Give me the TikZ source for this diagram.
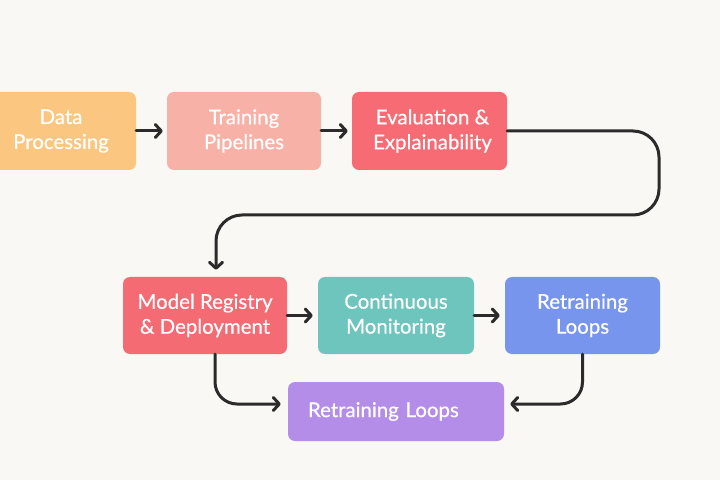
\documentclass[tikz,border=0pt]{standalone}
\usepackage{fontspec}
\setmainfont{Lato}
\newfontfamily\labfont{Lato}[FakeBold=0.5]
\usetikzlibrary{arrows.meta}
\definecolor{bg}{HTML}{FAF8F5}
\definecolor{cData}{HTML}{FBC680}
\definecolor{cTrain}{HTML}{F8B1A7}
\definecolor{cEval}{HTML}{F76B74}
\definecolor{cModel}{HTML}{F56B73}
\definecolor{cMon}{HTML}{6DC5BE}
\definecolor{cRetrain}{HTML}{7795EC}
\definecolor{cLoop}{HTML}{B48DE8}
\definecolor{cLine}{HTML}{2B2B2B}
\tikzset{
  stagebox/.style={rounded corners=7bp, text=white, align=center,
    minimum width=155bp, minimum height=78bp, inner sep=0pt,
    font=\labfont\fontsize{20.5}{25}\selectfont},
  flow/.style={draw=cLine, line width=3bp, line cap=round, line join=round,
    -{Straight Barb[length=6bp,width=13bp,round]}},
}
\begin{document}
\begin{tikzpicture}[x=1bp,y=-1bp]
\useasboundingbox (0,0) rectangle (720,480);
\fill[bg] (0,0) rectangle (720,480);
\node[stagebox, fill=cData, minimum width=160bp] (dp) at (56,131) {\hspace*{10bp}Data\\\hspace*{10bp}Processing};
\node[stagebox, fill=cTrain, minimum width=154bp] (tp) at (244,131) {Training\\Pipelines};
\node[stagebox, fill=cEval] (ev) at (429.5,131) {\hspace*{6bp}Evaluation \&\\\hspace*{6bp}Explainability};
\node[stagebox, fill=cModel, minimum width=164bp, minimum height=77bp] (mr) at (205,315.5) {Model Registry\\\& Deployment};
\node[stagebox, fill=cMon, minimum width=156bp, minimum height=77bp] (cm) at (396,315.5) {Continuous\\Monitoring};
\node[stagebox, fill=cRetrain, minimum width=155bp, minimum height=77bp] (rl) at (582.5,315.5) {Retraining\\Loops};
\node[stagebox, fill=cLoop, minimum width=216bp, minimum height=59bp, text width=176bp, align=left, inner xsep=20bp] (pl) at (396,411.5) {Retraining Loops};
\coordinate (loopR) at (659,215);
\draw[flow, shorten >=4bp] (dp.east) -- (tp.west);
\draw[flow, shorten >=4bp] (tp.east) -- (ev.west);
\draw[flow, rounded corners=26bp, shorten >=7bp] (ev.east) -| (loopR) -| ([xshift=11bp]mr.north);
\draw[flow, shorten >=5bp] (mr.east) -- (cm.west);
\draw[flow, shorten >=5bp] (cm.east) -- (rl.west);
\draw[flow, rounded corners=22bp, shorten >=7bp] ([xshift=10bp]mr.south) |- ([yshift=7.5bp]pl.west);
\draw[flow, rounded corners=22bp, shorten >=6bp] (rl.south) |- ([yshift=7.5bp]pl.east);
\end{tikzpicture}
\end{document}
